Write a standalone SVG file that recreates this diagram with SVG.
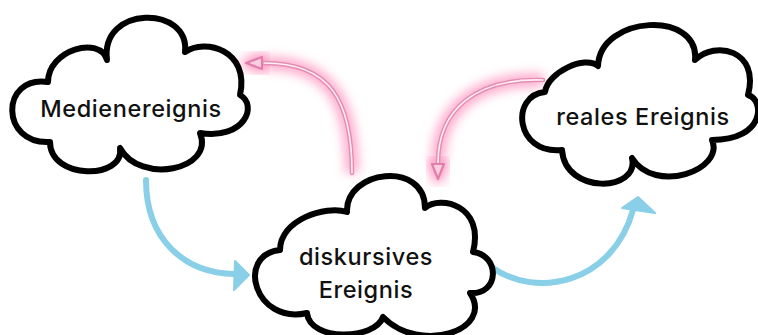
<svg xmlns="http://www.w3.org/2000/svg" width="758" height="335" viewBox="0 0 758 335">
  <defs>
    <filter id="glow" x="-50%" y="-50%" width="200%" height="200%">
      <feGaussianBlur stdDeviation="5.5"/>
    </filter>
    <style>
      .cloud { fill: #ffffff; stroke: #000000; stroke-width: 6; stroke-linejoin: round; stroke-linecap: round; }
      .label { font-family: Inter, "Liberation Sans", sans-serif; font-weight: 500; font-size: 23.5px; fill: #111111; text-anchor: middle; letter-spacing: 0.6px; }
      .glow { fill: none; stroke: #ff5c9c; stroke-width: 13; opacity: 0.55; filter: url(#glow); }
      .glowhead { fill: #ff5c9c; stroke: #ff5c9c; stroke-width: 10; stroke-linejoin: round; opacity: 0.6; filter: url(#glow); }
      .pinkouter { fill: none; stroke: #e58db4; stroke-width: 4.5; stroke-linecap: round; }
      .pinkinner { fill: none; stroke: #fdeef4; stroke-width: 1.6; stroke-linecap: round; }
      .pinkhead { fill: #f9cfe0; stroke: #e07fab; stroke-width: 2.2; stroke-linejoin: round; }
      .blue { fill: none; stroke: #88cfe7; stroke-width: 6; stroke-linecap: round; }
      .bluehead { fill: #88cfe7; stroke: #88cfe7; stroke-width: 2; stroke-linejoin: round; }
    </style>
  </defs>
  <rect width="758" height="335" fill="#ffffff"/>

  <g id="connectors">
    <!-- glow -->
    <path class="glow" d="M352,173 C352,100 330,63 264,63"/>
    <path class="glow" d="M543,80 C475,78 438,110 438,163"/>
    <polygon class="glowhead" points="246,63 262,57 262,69"/>
    <polygon class="glowhead" points="438,179 432,164 444,164"/>
    <!-- pink arrow: diskursives -> Medienereignis -->
    <path class="pinkouter" d="M352,173 C352,100 330,63 264,63"/>
    <path class="pinkinner" d="M352,173 C352,100 330,63 264,63"/>
    <polygon class="pinkhead" points="246,63 262,57 262,69"/>
    <!-- pink arrow: reales -> diskursives -->
    <path class="pinkouter" d="M543,80 C475,78 438,110 438,163"/>
    <path class="pinkinner" d="M543,80 C475,78 438,110 438,163"/>
    <polygon class="pinkhead" points="438,179 432,164 444,164"/>
    <!-- blue arrow: Medienereignis -> diskursives -->
    <path class="blue" d="M146,180 C146,240 185,273 234,274"/>
    <polygon class="bluehead" points="249,275 235,261 234,290"/>
    <!-- blue arrow: diskursives -> reales -->
    <path class="blue" d="M493,268 C535,298 612,285 633,210"/>
    <polygon class="bluehead" points="638,197 622,208 655,213"/>
  </g>

  <g id="node-medienereignis">
    <path class="cloud" d="M50,142 C0,145 0,75 48,82 C48,50 100,35 107,60 C100,5 190,5 185,52 C205,38 250,50 240,95 C258,105 245,140 200,133 C215,170 140,185 120,148 C125,180 50,180 50,142 Z"/>
    <text class="label" x="131" y="117">Medienereignis</text>
  </g>

  <g id="node-reales-ereignis">
    <path class="cloud" d="M562,150 C515,155 510,95 545,92 C548,72 585,55 598,66 C600,15 700,10 695,60 C715,40 760,50 748,95 C765,100 765,140 712,140 C725,170 655,195 632,158 C640,192 565,195 562,150 Z"/>
    <text class="label" x="643" y="125">reales Ereignis</text>
  </g>

  <g id="node-diskursives-ereignis">
    <path class="cloud" d="M280,250 C280,220 325,205 347,212 C345,170 425,160 425,208 C440,195 485,205 473,252 C500,255 500,295 470,293 C495,330 420,355 383,317 C375,340 310,342 307,313 C255,325 235,255 280,250 Z"/>
    <text class="label" x="366" y="265">diskursives</text>
    <text class="label" x="366" y="298">Ereignis</text>
  </g>
</svg>
